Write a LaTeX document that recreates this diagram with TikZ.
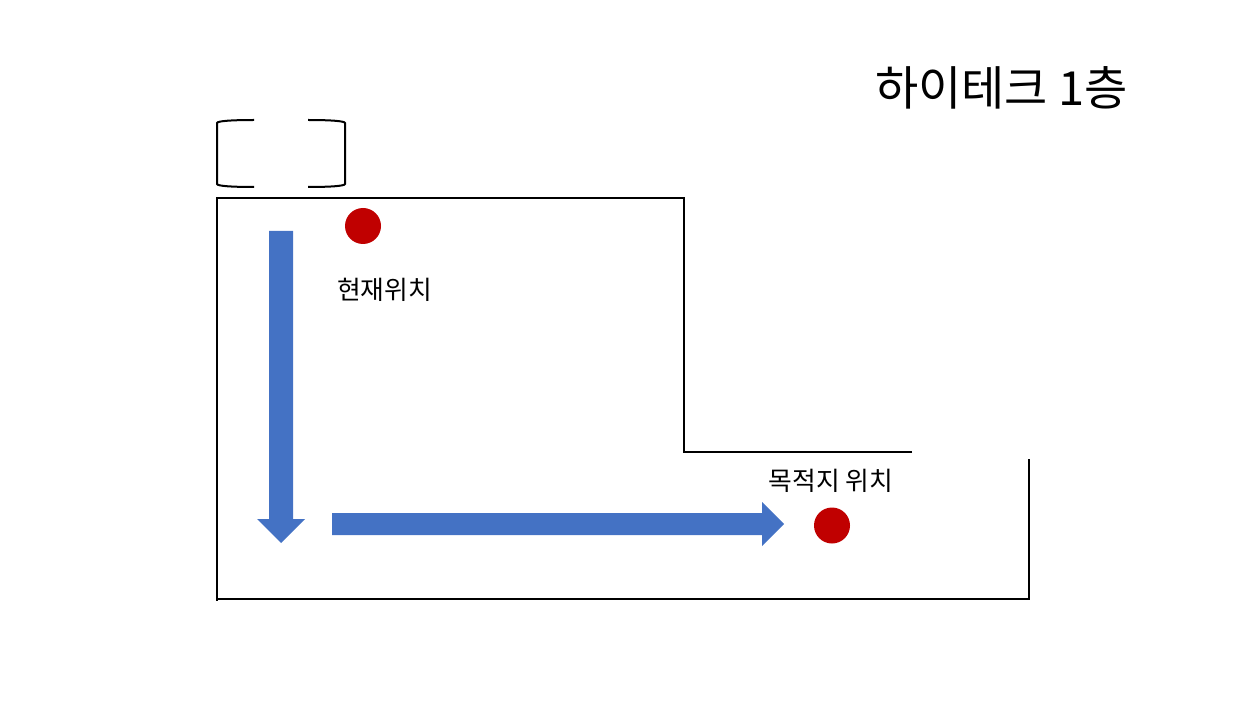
\documentclass[tikz,border=0pt]{standalone}
\usepackage{fontspec}
\setmainfont{Noto Sans CJK KR}
\definecolor{arrowblue}{HTML}{4472C4}
\definecolor{dotred}{HTML}{C00000}
\tikzset{
  wall/.style={draw=black,line width=2pt,line join=miter},
  door/.style={draw=black,line width=2pt,line join=miter},
  flow/.style={fill=arrowblue,draw=none},
  spot/.style={circle,fill=dotred,draw=none,minimum size=36pt,inner sep=0pt},
  caption/.style={inner sep=0pt,text=black,font=\fontsize{25.8}{30}\selectfont},
  heading/.style={inner sep=0pt,text=black,font=\fontsize{47}{54}\selectfont}
}
\begin{document}
\begin{tikzpicture}[x=1pt,y=-1pt]
\useasboundingbox (0,0) rectangle (1241,708);
% door
\draw[door] (254,120) .. controls (232,120) and (217,121) .. (217,123) -- (217,184) .. controls (217,186) and (232,187) .. (254,187);
\draw[door] (308,120) .. controls (330,120) and (345,121) .. (345,123) -- (345,184) .. controls (345,186) and (330,187) .. (308,187);
% walls
\draw[wall] (912,452) -- (684,452) -- (684,198) -- (217,198) -- (217,601);
\draw[wall] (1029,459) -- (1029,599) -- (217,599);
% arrows
\fill[flow] (269,231) -- (293,231) -- (293,519) -- (305,519) -- (281,543) -- (257,519) -- (269,519) -- cycle;
\fill[flow] (332,513) -- (762,513) -- (762,502) -- (784,524) -- (762,546) -- (762,535) -- (332,535) -- cycle;
% markers
\node[spot] (here) at (363,226) {};
\node[spot] (goal) at (832,525.5) {};
% labels
\node[caption] (herelabel) at (384.5,290) {현재위치};
\node[caption] (goallabel) at (831,481) {목적지 위치};
\node[heading] (title) at (1001.5,88) {하이테크 1층};
\end{tikzpicture}
\end{document}
